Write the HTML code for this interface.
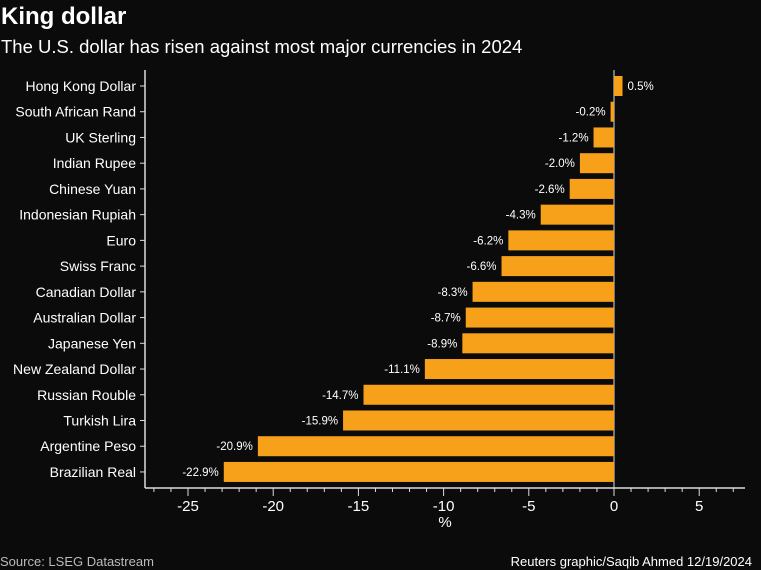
<!DOCTYPE html>
<html><head><meta charset="utf-8"><style>
body{margin:0;background:#0b0b0b;width:761px;height:570px;overflow:hidden;font-family:"Liberation Sans","Noto Sans CJK SC",sans-serif;}
svg{display:block}
</style></head><body>
<svg id="c" width="761" height="570">
<text x="1" y="24" fill="#fff" font-size="24" font-weight="bold">King dollar</text>
<text x="1" y="53" fill="#fff" font-size="18.5">The U.S. dollar has risen against most major currencies in 2024</text>
<text x="445" y="527" fill="#fff" font-size="15" text-anchor="middle">%</text>
<text x="0" y="566" fill="#bbb" font-size="13">Source: LSEG Datastream</text>
<text x="752" y="566" fill="#fff" font-size="13" text-anchor="end">Reuters graphic/Saqib Ahmed 12/19/2024</text>
<g id="g"></g>
</svg>
<script>
const categories=["Hong Kong Dollar","South African Rand","UK Sterling","Indian Rupee","Chinese Yuan","Indonesian Rupiah","Euro","Swiss Franc","Canadian Dollar","Australian Dollar","Japanese Yen","New Zealand Dollar","Russian Rouble","Turkish Lira","Argentine Peso","Brazilian Real"];
const values=[0.5,-0.2,-1.2,-2.0,-2.6,-4.3,-6.2,-6.6,-8.3,-8.7,-8.9,-11.1,-14.7,-15.9,-20.9,-22.9];
const tickLabels=[-25,-20,-15,-10,-5,0,5];
const NS="http://www.w3.org/2000/svg";
const g=document.getElementById('g');
const x=v=>614+v*17.04;
const y=i=>86+i*25.73;
function mk(t,a){const e=document.createElementNS(NS,t);for(const k in a)e.setAttribute(k,a[k]);g.appendChild(e);return e;}
let e;
e=mk('line',{x1:145,y1:70,x2:145,y2:488,stroke:'#ddd','stroke-width':1.5});


e=mk('line',{x1:145,y1:488,x2:745,y2:488,stroke:'#ddd','stroke-width':1.5});


e=mk('line',{x1:x(0),y1:70,x2:x(0),y2:488,stroke:'#ddd','stroke-width':1});


for(let v=-27;v<=7;v++){
  const maj=v%5===0;
  e=mk('line',{x1:x(v),y1:488,x2:x(v),y2:maj?496:492,stroke:'#ddd','stroke-width':1});
  
  
}
tickLabels.forEach(v=>{
  e=mk('text',{x:x(v),y:511,fill:'#fff','font-size':15,'text-anchor':'middle'});
  e.textContent=v;
  
  
});
categories.forEach((c,i)=>{
  const v=values[i],yy=y(i);
  e=mk('line',{x1:140,y1:yy,x2:145,y2:yy,stroke:'#ddd'});
  
  
  e=mk('text',{x:136,y:yy+5,fill:'#fff','font-size':14,'text-anchor':'end',textLength:0});
  e.removeAttribute('textLength');
  e.textContent=c;
  
  
  const x0=Math.min(x(0),x(v)),w=Math.abs(x(v)-x(0));
  e=mk('rect',{x:x0,y:yy-10,width:Math.max(w,1.5),height:20,fill:'#f7a11a'});
  
  
  const lab=v.toFixed(1)+'%';
  e=mk('text',{x:v>=0?x(v)+5:x(v)-5,y:yy+4,fill:'#fff','font-size':11.5,'text-anchor':v>=0?'start':'end'});
  e.textContent=lab;
  
  
});
</script>
</body></html>
